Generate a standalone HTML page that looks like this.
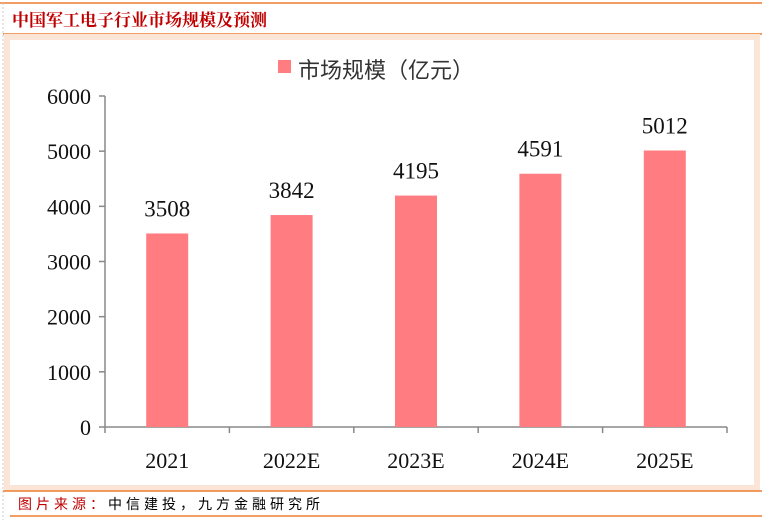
<!DOCTYPE html>
<html><head><meta charset="utf-8"><style>
body{margin:0;width:762px;height:522px;background:#fff;overflow:hidden;font-family:"Liberation Serif","Noto Serif CJK SC",serif}
</style></head><body>
<svg width="762" height="522">
<line x1="0" y1="3" x2="762" y2="3" stroke="#ed7d31" stroke-width="1.5"/>
<line x1="3" y1="3" x2="3" y2="520" stroke="#ccc" stroke-dasharray="2,2"/>
<text x="12" y="26" font-size="17" font-weight="bold" fill="#c00000" font-family="Noto Serif CJK SC, serif">中国军工电子行业市场规模及预测</text>
<line x1="3" y1="34" x2="762" y2="34" stroke="#ed7d31" stroke-width="1.5"/>
<rect x="7" y="37" width="750" height="451" fill="#fff" stroke="#fbe5d6" stroke-width="6"/>
<rect x="278" y="60" width="13" height="13" fill="#ff7c80"/>
<text x="298" y="78" font-size="22" fill="#333" font-family="Noto Sans CJK SC, sans-serif">市场规模（亿元）</text>
<g id="plot"></g>
<line x1="3" y1="491" x2="762" y2="491" stroke="#ed7d31" stroke-width="1.5"/>
<text x="18" y="509" font-size="14" letter-spacing="4" font-family="Noto Sans CJK SC, sans-serif"><tspan fill="#c00000">图片来源：</tspan><tspan fill="#000">中信建投，九方金融研究所</tspan></text>
<line x1="10" y1="516" x2="762" y2="516" stroke="#ed7d31" stroke-width="1.5"/>
</svg>
<script>
const categories=["2021","2022E","2023E","2024E","2025E"];
const values=[3508,3842,4195,4591,5012];
const yTicks=[0,1000,2000,3000,4000,5000,6000];
const NS="http://www.w3.org/2000/svg";
const g=document.getElementById('plot');
const x0=105,x1=727,yBase=427,yTop=96,yMax=6000;
const band=(x1-x0)/categories.length;
const y=v=>yBase-(v/yMax)*(yBase-yTop);
const xc=i=>x0+band*(i+0.5);
function mk(t,a){const e=document.createElementNS(NS,t);for(const k in a)e.setAttribute(k,a[k]);g.appendChild(e);return e;}
let ax=mk('line',{x1:x0,y1:yTop,x2:x0,y2:yBase,stroke:'#888','stroke-width':1.5});


yTicks.forEach(t=>{
 const tk=mk('line',{x1:x0-6,y1:y(t),x2:x0,y2:y(t),stroke:'#888','stroke-width':1.5});
 
 
 const tx=mk('text',{x:x0-14,y:y(t)+8,'font-size':22,'text-anchor':'end',fill:'#111'});
 tx.textContent=t;
 
 
});
let xa=mk('line',{x1:x0,y1:yBase,x2:x1,y2:yBase,stroke:'#888','stroke-width':1.5});


for(let i=0;i<=categories.length;i++){
 const tk=mk('line',{x1:x0+band*i,y1:yBase,x2:x0+band*i,y2:yBase+6,stroke:'#888','stroke-width':1.5});
 
 
}
categories.forEach((c,i)=>{
 const b=mk('rect',{x:xc(i)-21,y:y(values[i]),width:42,height:yBase-y(values[i]),fill:'#ff7c80'});
 
 
 const v=mk('text',{x:xc(i),y:y(values[i])-17,'font-size':23,'text-anchor':'middle',fill:'#111'});
 v.textContent=values[i];
 
 
 const l=mk('text',{x:xc(i),y:yBase+41,'font-size':22,'text-anchor':'middle',fill:'#111'});
 l.textContent=c;
 
 
});
</script>
</body></html>
